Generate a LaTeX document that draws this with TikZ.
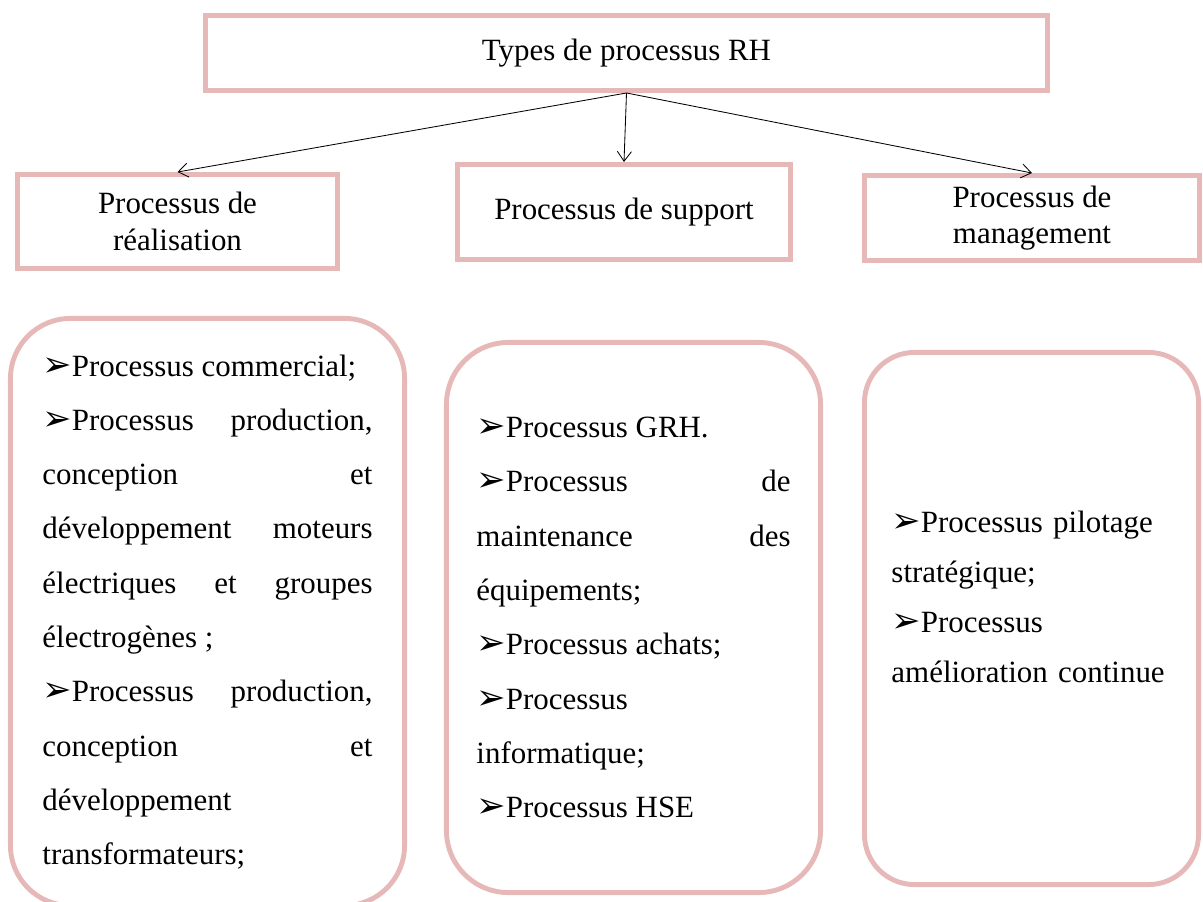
\documentclass[tikz,border=0pt]{standalone}
\usepackage{fontspec}
\setmainfont{Liberation Serif}
\newfontfamily\dingfont{DejaVu Sans}
\usetikzlibrary{arrows.meta}
\definecolor{rosebord}{HTML}{E6B9B8}
\newcommand{\puce}{{\dingfont\fontsize{25pt}{25pt}\selectfont ➢}}
\newcommand{\reglages}{\tolerance=10000\relax\pretolerance=10000\relax}
\tikzset{
    cadre/.style = {
        draw=rosebord,
        line width=3.5pt,
        rectangle,
        align=center,
        font=\fontsize{22pt}{25.8pt}\selectfont
    },
    liste/.style = {
        draw=rosebord,
        line width=3.5pt,
        rectangle,
        rounded corners=#1,
        align=justify,
        font=\fontsize{22pt}{38.6pt}\selectfont\reglages
    },
    fleche/.style = {
        -{Straight Barb[length=7pt,width=10pt]},
        line width=0.6pt,
        black
    }
}

\begin{document}
\begin{tikzpicture}[x=0.025cm, y=-0.025cm]
    \useasboundingbox (0,0) rectangle (1203,901);

    % Boite du haut et les trois types
    \node[cadre, minimum width=21.05cm, minimum height=1.875cm] (types) at (626.5,53) {Types de processus RH};
    \node[cadre, minimum width=8cm, minimum height=2.35cm] (realisation) at (177.5,221.5) {Processus de\\ réalisation};
    \node[cadre, minimum width=8.325cm, minimum height=2.375cm] (support) at (624,212) {Processus de support};
    \node[cadre, minimum width=8.375cm, minimum height=2.125cm] (management) at (1032,218) {Processus de\\ management};

    \draw[fleche] (types.south) -- (realisation.north);
    \draw[fleche] (types.south) -- (support.north);
    \draw[fleche] (types.south) -- (management.north);

    % Listes des processus
    \node[liste=1.5cm, minimum width=9.85cm, minimum height=14.675cm, text width=8.25cm] (listereal) at (207.5,612) {%
        \puce Processus commercial;\par
        \puce Processus production,\linebreak conception et\linebreak développement moteurs\linebreak électriques et groupes\linebreak électrogènes ;\par
        \puce Processus production,\linebreak conception et\linebreak développement\linebreak transformateurs;};
    \node[liste=1.55cm, minimum width=9.35cm, minimum height=13.75cm, text width=7.85cm] (listesupport) at (633.5,617.5) {%
        \puce Processus GRH.\par
        \puce Processus de\linebreak maintenance des\linebreak équipements;\par
        \puce Processus achats;\par
        \puce Processus\linebreak informatique;\par
        \puce Processus HSE};
    \node[liste=1.25cm, minimum width=8.35cm, minimum height=13.3cm, text width=7cm, align=left,
        font=\fontsize{22pt}{35.5pt}\selectfont, text depth=4.83cm] (listemanagement) at (1031.5,618.5) {%
        \puce Processus pilotage\\ stratégique;\\ \puce Processus\\ amélioration continue};
\end{tikzpicture}
\end{document}
